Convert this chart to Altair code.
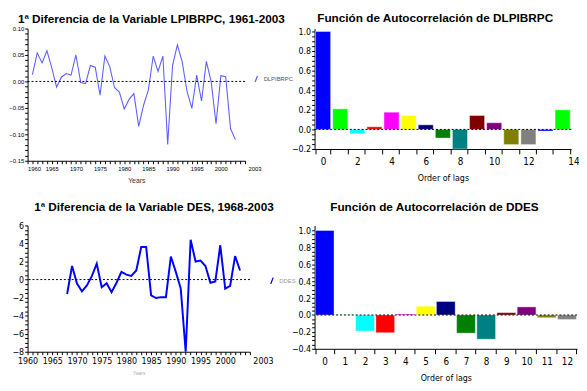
import altair as alt
import pandas as pd

# ---------------- data ----------------
years1 = list(range(1961, 2004))
dlpibrpc = [0.013, 0.054, 0.035, 0.058, 0.026, -0.011, 0.008, 0.015, 0.012, 0.050,
            -0.002, -0.004, 0.030, 0.027, -0.026, 0.048, 0.028, -0.012, -0.020, -0.052,
            -0.034, -0.023, -0.085, -0.045, -0.016, 0.048, 0.019, 0.048, -0.119, 0.030,
            0.069, 0.037, -0.019, -0.051, 0.012, -0.037, 0.038, -0.001, -0.080, 0.011,
            0.009, -0.089, -0.110]

years2 = list(range(1968, 2004))
ddes = [-1.6, 1.5, -0.45, -1.3, -0.65, 0.37, 1.75, -0.85, -0.4, -1.4,
        -0.35, 0.85, 0.55, 0.4, 1.0, 3.6, 3.6, -1.75, -2.05, -1.95,
        -1.95, 2.55, 0.85, -1.0, -8.0, 4.4, 2.0, 2.1, 1.5, -0.35,
        -0.2, 3.8, -1.0, -0.7, 2.6, 1.0]

lags1 = list(range(0, 15))
acf1 = [1.0, 0.21, -0.044, 0.027, 0.176, 0.142, 0.047, -0.088, -0.2, 0.142,
        0.068, -0.155, -0.155, -0.017, 0.2]

lags2 = list(range(0, 13))
acf2 = [1.0, 0.004, -0.19, -0.21, 0.012, 0.104, 0.16, -0.215, -0.287, 0.028,
        0.096, -0.032, -0.052]

palette = ["#0000FF", "#00FF00", "#00FFFF", "#FF0000", "#FF00FF", "#FFFF00", "#000080",
           "#008000", "#008080", "#800000", "#800080", "#808000", "#808080"]

FONT = "Liberation Sans"
NARROW = "'Liberation Sans Narrow', 'Arial Narrow', 'DejaVu Sans Condensed', 'Roboto Condensed', 'Liberation Sans', sans-serif"


def title(text, offset):
    return alt.TitleParams(text, font=FONT, fontSize=12, fontWeight="bold",
                           color="black", anchor="middle", frame="bounds", offset=offset)


def line_panel(years, vals, name, ttl, color, sw, ydom, ystep, ymajor, yfmt,
               w, h, lab_size, lab_font, xtitle_size, xtitle_color, leg_color,
               legx, legy, flush_first, toff):
    df = pd.DataFrame({"year": years, "value": vals, "serie": name})
    n = int(round((ydom[1] - ydom[0]) / ystep))
    yvals = [round(ydom[0] + ystep * i, 3) for i in range(n + 1)]
    xvals = list(range(1960, 2006))
    k = int(round(ymajor / ystep))
    ylab = (f"abs(round(datum.value/{ystep}) % {k}) == 0 "
            f"? format(datum.value, '{yfmt}') : ''")
    xlab = ("datum.value == 2005 ? '2003' : (datum.value % 5 == 0 && datum.value <= 2000 "
            "? toString(datum.value) : '')")
    align_test = "datum.value >= 2005" + (" || datum.value <= 1960" if flush_first else "")
    line = alt.Chart(df).mark_line(strokeWidth=sw).encode(
        x=alt.X("year:Q",
                scale=alt.Scale(domain=[1960, 2005], nice=False, zero=False),
                axis=alt.Axis(values=xvals, labelExpr=xlab, title="Years",
                              titleFont=FONT, titleFontSize=xtitle_size,
                              titleFontWeight="normal", titleColor=xtitle_color,
                              titlePadding=5, labelFont=lab_font, labelFontSize=lab_size,
                              labelFlush=False, labelOverlap=False, tickSize=3,
                              labelPadding=2,
                              labelAlign={"condition": {"test": align_test, "value": "left"},
                                          "value": "center"},
                              labelOffset={"condition": {"test": "datum.value >= 2005",
                                                         "value": 3}, "value": 0})),
        y=alt.Y("value:Q",
                scale=alt.Scale(domain=ydom, nice=False, zero=False),
                axis=alt.Axis(values=yvals, labelExpr=ylab, title=None, tickSize=3,
                              labelFont=lab_font, labelFontSize=lab_size,
                              labelOverlap=False, labelPadding=1)),
        color=alt.Color("serie:N", scale=alt.Scale(domain=[name], range=[color]),
                        legend=alt.Legend(title=None, orient="none", legendX=legx,
                                          legendY=legy, symbolType="M-0.35,0.9L0.35,-0.9",
                                          symbolSize=50, symbolStrokeWidth=1.3,
                                          labelFont=FONT, labelFontSize=6,
                                          labelOffset=3, padding=0,
                                          labelColor=leg_color)),
    )
    rule = alt.Chart(pd.DataFrame({"z": [0]})).mark_rule(
        color="black", strokeDash=[2, 2], strokeWidth=1).encode(
        y=alt.Y("z:Q", axis=alt.Axis(values=yvals, labelExpr=ylab, title=None,
                                     labelOverlap=False)))
    return alt.layer(line, rule).properties(width=w, height=h, title=title(ttl, toff))


def acf_panel(lags, vals, ttl, ydom, w, h, even_only, pad, toff):
    df = pd.DataFrame({"lag": lags, "acf": vals})
    n = int(round((1.0 - ydom[0]) / 0.05))
    yvals = [round(ydom[0] + 0.05 * i, 2) for i in range(n + 1)]
    cols = [palette[i % len(palette)] for i in range(len(lags))]
    last = lags[-1]
    if even_only:
        xlab = "datum.value % 2 == 0 ? toString(datum.value) : ''"
        off = {"condition": {"test": f"datum.value == {last}", "value": 11}, "value": 0}
    else:
        xlab = "toString(datum.value)"
        off = 0
    ylab = "abs(round(datum.value*20) % 4) == 0 ? format(datum.value, '.1f') : ''"
    bars = alt.Chart(df).mark_bar(stroke="white", strokeWidth=0.6, strokeOpacity=0.7).encode(
        x=alt.X("lag:O", scale=alt.Scale(paddingInner=pad, paddingOuter=pad / 2),
                axis=alt.Axis(title="Order of lags", titleFont=NARROW, titleFontSize=9,
                              titleFontWeight="normal", titleColor="black", titlePadding=7,
                              labelAngle=0, labelExpr=xlab, labelFont=NARROW,
                              labelFontSize=10, tickBand="extent", tickSize=5,
                              labelPadding=3, labelOffset=off)),
        y=alt.Y("acf:Q", scale=alt.Scale(domain=ydom, nice=False),
                axis=alt.Axis(values=yvals, title=None, tickSize=3, labelExpr=ylab,
                              labelFont=NARROW, labelFontSize=9, labelOverlap=False,
                              labelPadding=1)),
        color=alt.Color("lag:O", scale=alt.Scale(domain=lags, range=cols), legend=None),
    )
    rule = alt.Chart(pd.DataFrame({"z": [0]})).mark_rule(
        color="black", strokeDash=[2, 2], strokeWidth=1).encode(
        y=alt.Y("z:Q", axis=alt.Axis(values=yvals, title=None, labelExpr=ylab,
                                     labelOverlap=False)))
    return alt.layer(bars, rule).properties(width=w, height=h, title=title(ttl, toff))


tl = line_panel(years1, dlpibrpc, "DLPIBRPC",
                "1ª Diferencia de la Variable LPIBRPC, 1961-2003",
                "#5f5fff", 1.1, [-0.15, 0.10], 0.01, 0.05, ".2f",
                222, 135, 6, FONT, 7, "#333333", "#555555", 229, 47, True, 0)
bl = line_panel(years2, ddes, "DDES",
                "1ª Diferencia de la Variable DES, 1968-2003",
                "#0000ff", 2, [-8, 6], 0.5, 2, "d",
                227, 129, 9, NARROW, 5, "#aaaaaa", "#999999", 245, 52, False, 8)
tr = acf_panel(lags1, acf1, "Función de Autocorrelación de DLPIBRPC", [-0.2, 1.03],
               262, 123, True, 0.12, 3)
br = acf_panel(lags2, acf2, "Función de Autocorrelación de DDES", [-0.4, 1.06],
               268, 126, False, 0.07, 12)

chart = alt.concat(tl, tr, bl, br, columns=2,
                   spacing={"row": 18, "column": -5}).resolve_scale(
    color="independent"
).properties(padding=0).configure_axis(
    grid=False, domainColor="black", tickColor="black", labelColor="black",
    domainWidth=1, tickWidth=1, labelOverlap=False
).configure_view(stroke=None)

chart.save("out.html", embed_options={"renderer": "svg", "actions": False})
